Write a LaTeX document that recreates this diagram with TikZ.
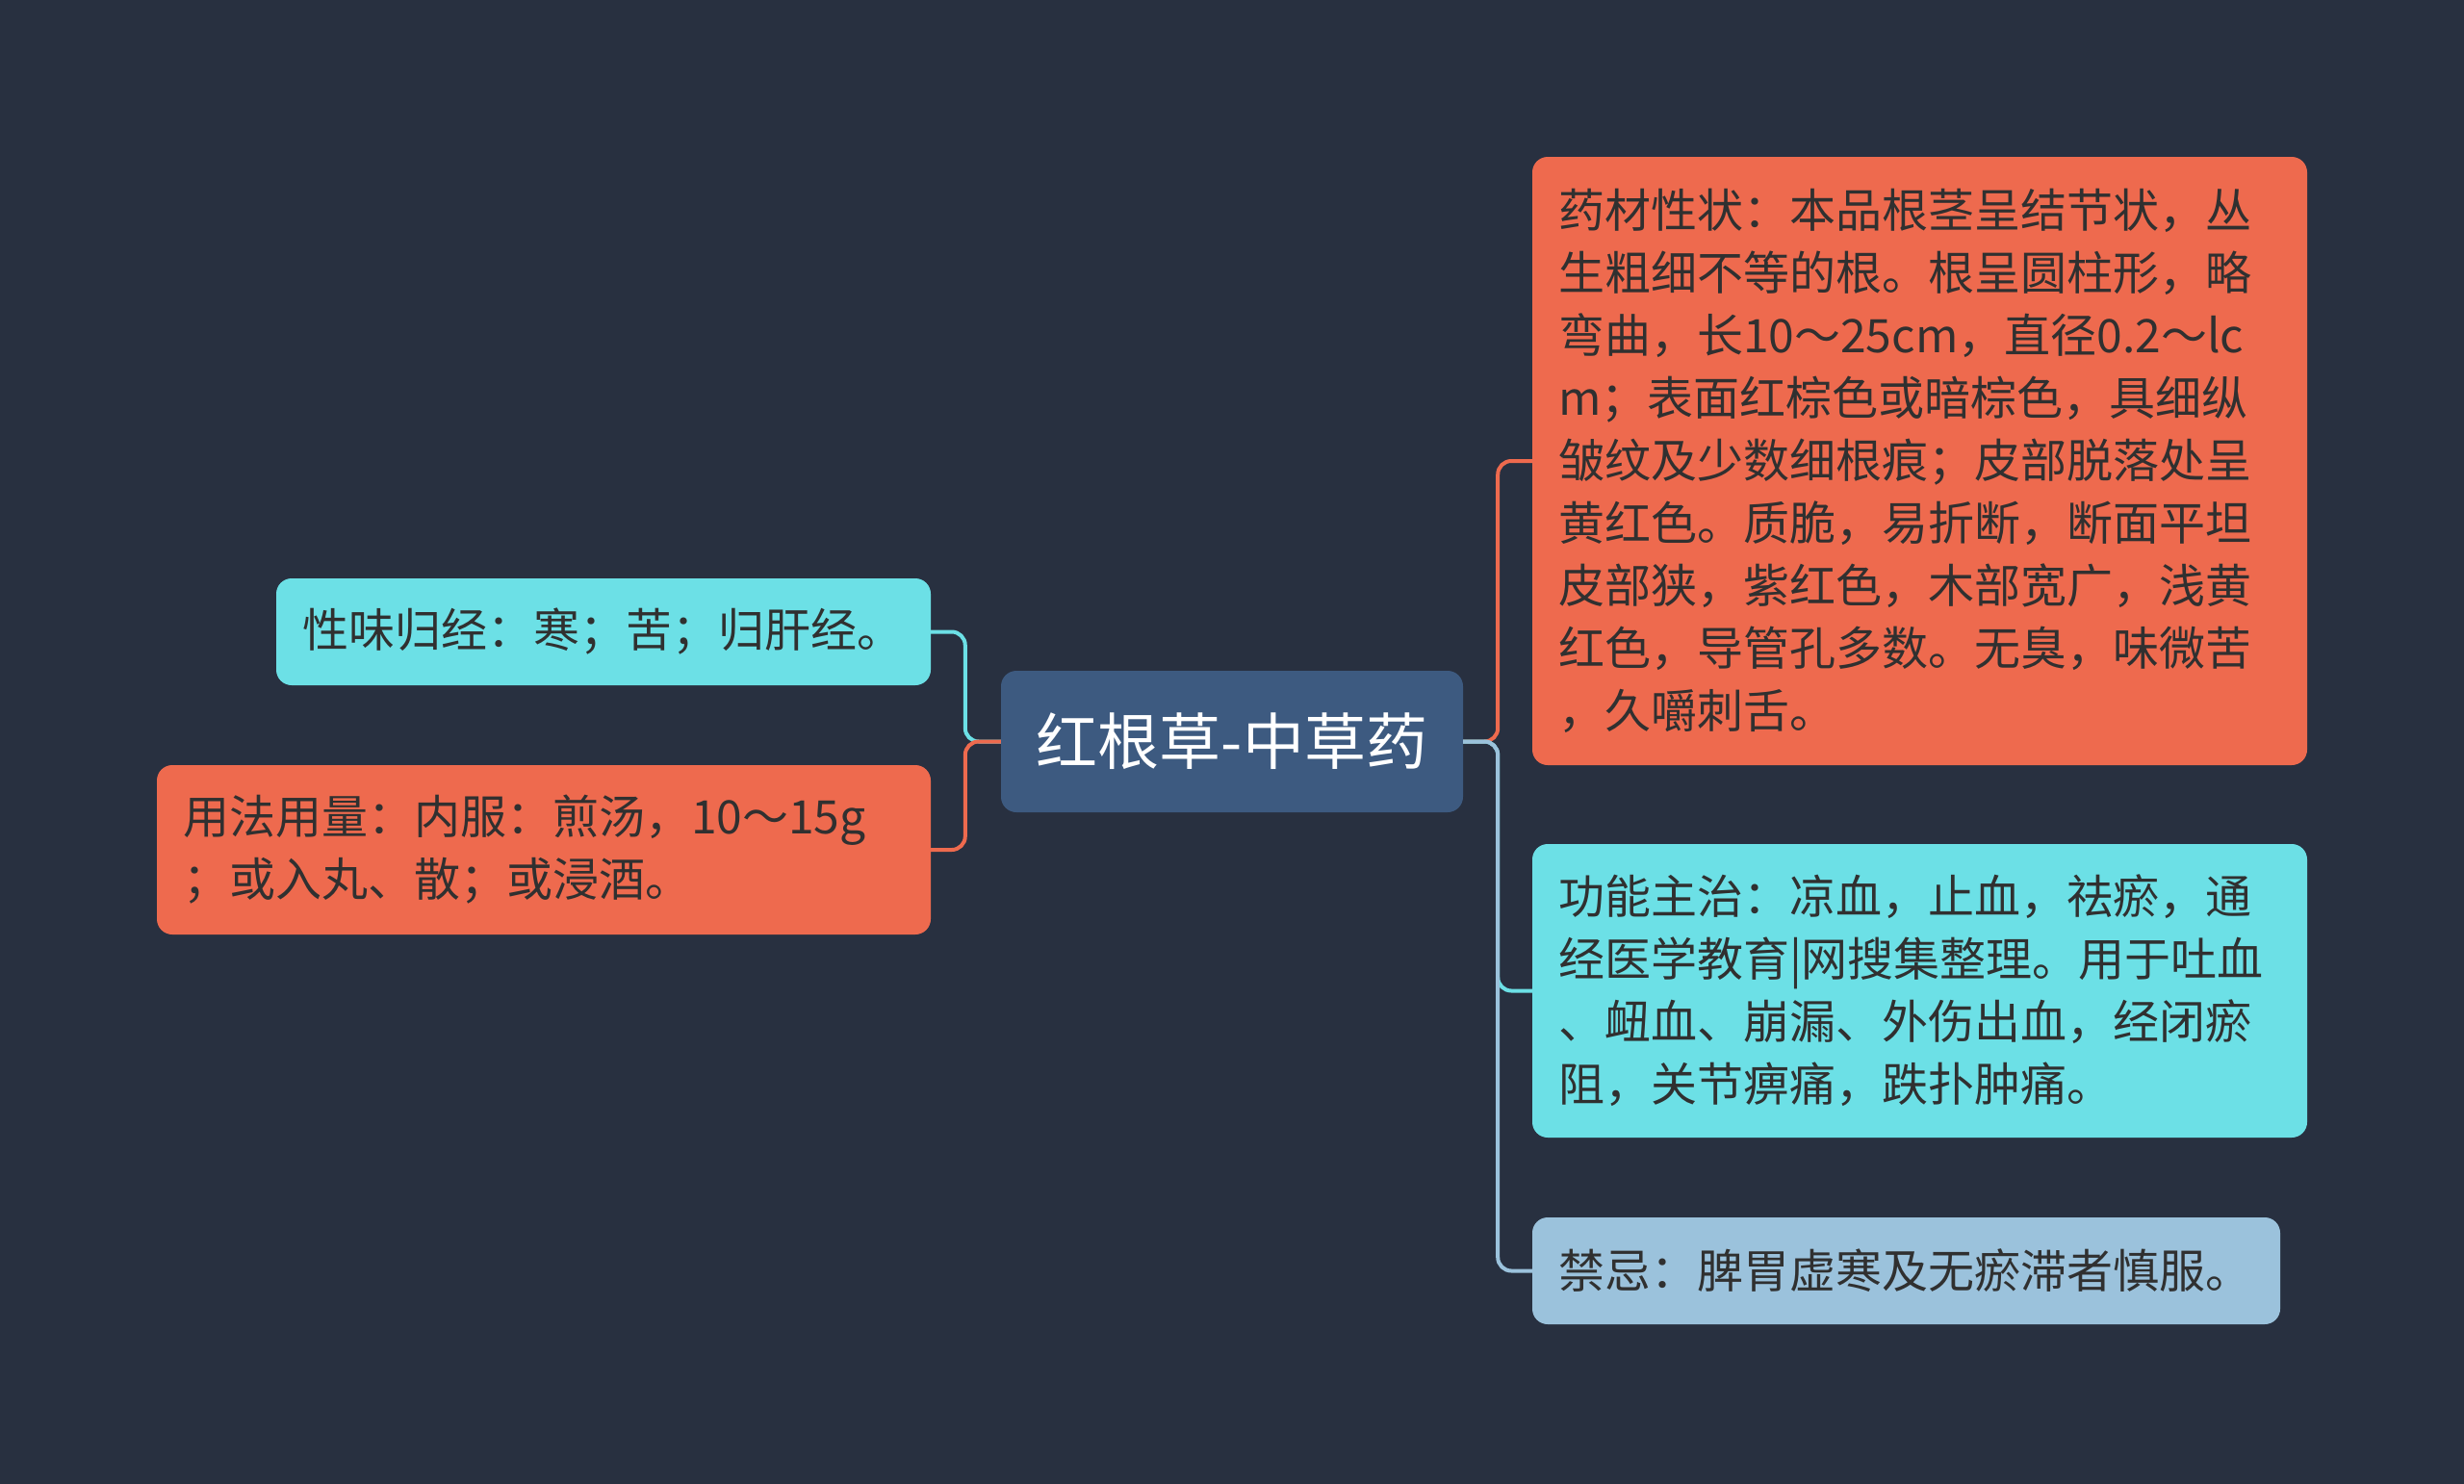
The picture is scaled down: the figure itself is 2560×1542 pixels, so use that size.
\documentclass[tikz,border=0pt]{standalone}
\usepackage{fontspec}
\setmainfont{Noto Sans CJK SC}
\definecolor{bg}{HTML}{283040}
\definecolor{centerc}{HTML}{3D5A80}
\definecolor{orangec}{HTML}{EE6A4E}
\definecolor{cyanc}{HTML}{6CE0E6}
\definecolor{lbluec}{HTML}{9BC2DC}
\definecolor{txt}{HTML}{303030}
\begin{document}
\begin{tikzpicture}[x=1pt,y=-1pt,
  box/.style={rounded corners=16pt, inner xsep=27pt, inner ysep=0pt, align=left, text=txt,
    font=\fontsize{48}{65}\selectfont},
  link/.style={line width=4pt, rounded corners=14pt},
]
\fill[bg] (0,0) rectangle (2560,1542);
\useasboundingbox (0,0) rectangle (2560,1542);

\node[rounded corners=16pt, fill=centerc, text=white, minimum width=480pt, minimum height=147pt,
  inner sep=0pt, font=\fontsize{64}{70}\selectfont] (c) at (1280,770.5) {红根草-中草药};

\node[box, fill=orangec, text width=751pt, minimum height=632pt] (r1) at (1994.5,479)
 {药材性状：本品根茎呈结节状，丛\\生粗细不等的根。根呈圆柱形，略\\弯曲，长10～25cm，直径0.2～lc\\m；表面红棕色或暗棕色，具细纵\\皱纹及少数细根痕；皮部脱落处呈\\黄红色。质脆，易折断，断面平坦\\皮部狭，紫红色，木部宽广，浅黄\\红色，导管孔多数。无臭，味微苦\\，久嚼刺舌。};

\node[box, fill=cyanc, text width=751pt, minimum height=305pt] (r2) at (1994.5,1029.5)
 {功能主治：凉血，止血，祛瘀，通\\经医学教育|网搜集整理。用于吐血\\、衄血、崩漏、外伤出血，经闭瘀\\阻，关节痹痛，跌扑肿痛。};

\node[box, fill=lbluec, text width=723pt, minimum height=111pt] (r3) at (1980.5,1320.5)
 {禁忌：脾胃虚寒及无瘀滞者慎服。};

\node[box, fill=cyanc, text width=626pt, minimum height=111pt] (l1) at (627,656.5)
 {性味归经：寒；苦；归肝经。};

\node[box, fill=orangec, text width=750pt, minimum height=176pt] (l2) at (565,883)
 {用法用量：内服：煎汤，10～15g\\；或入丸、散；或浸酒。};

\draw[link, cyanc] (c.west) -- ++(-37,0) |- (l1.east);
\draw[link, orangec] (c.west) -- ++(-37,0) |- (l2.east);

\draw[link, orangec] (c.east) -- ++(36,0) |- (r1.west);
\draw[link, cyanc] (c.east) -- ++(36,0) |- (r2.west);
\draw[link, lbluec] (c.east) -- ++(36,0) |- (r3.west);
\end{tikzpicture}
\end{document}
